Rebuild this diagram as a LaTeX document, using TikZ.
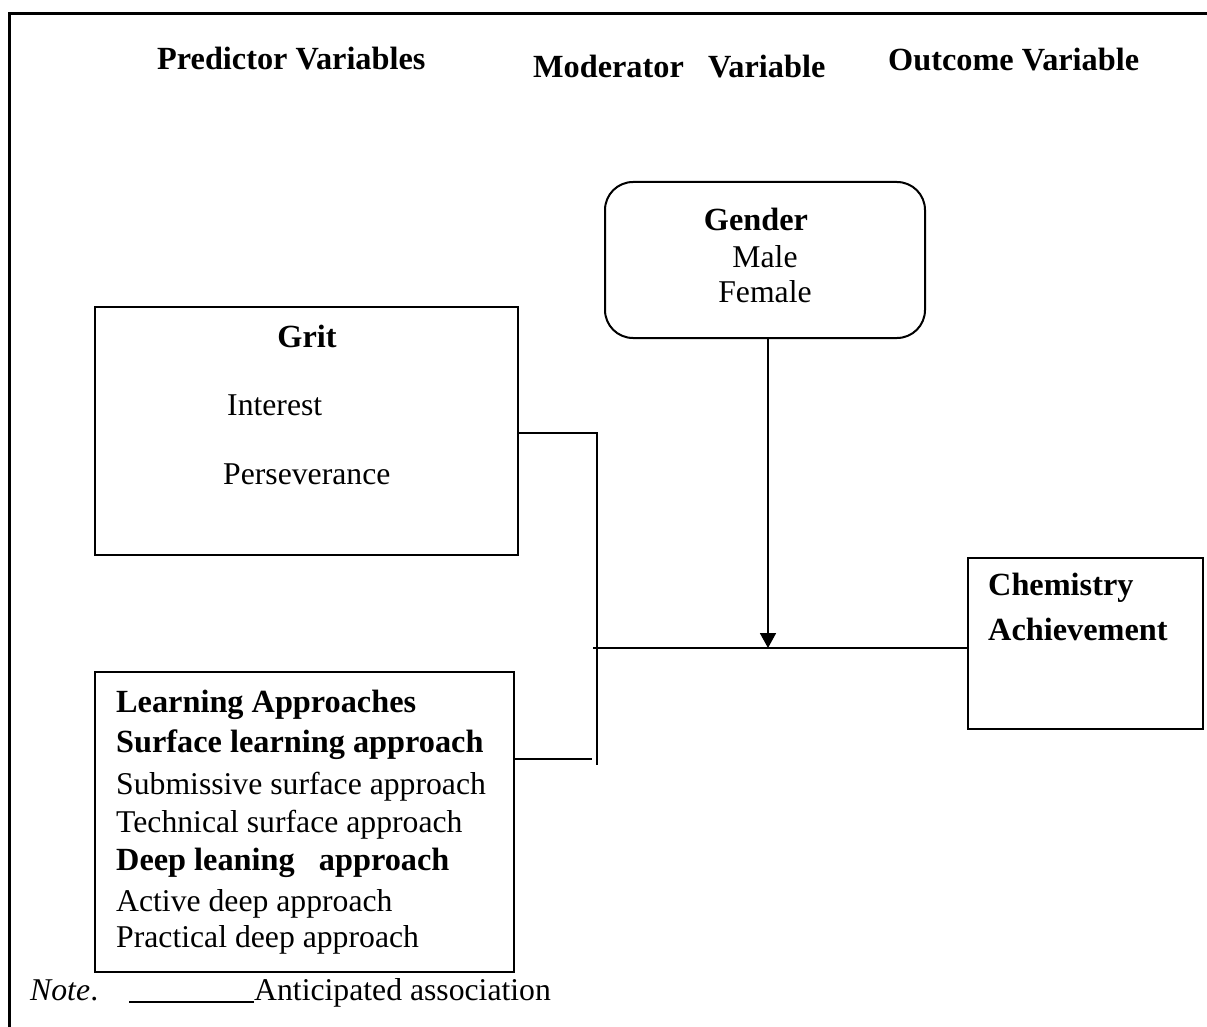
\documentclass[tikz,border=0pt]{standalone}
\usepackage{fontspec}
\setmainfont{Liberation Serif}
\usetikzlibrary{arrows.meta}
\tikzset{
  txt/.style={inner sep=0pt, font=\fontsize{31.7}{36}\selectfont},
  btxt/.style={txt, font=\fontsize{32.3}{37}\selectfont\bfseries},
  box/.style={draw, line width=2pt, inner sep=0pt},
  conn/.style={line width=1.8pt},
}
\begin{document}
\begin{tikzpicture}[x=1pt,y=-1pt]
\clip (0,0) rectangle (1207,1027);
\fill[white] (0,0) rectangle (1207,1027);
% outer frame (right and bottom edges lie outside the picture)
\draw[line width=2.2pt] (9.5,13.5) rectangle (1230,1050);

% headings
\node[btxt, anchor=base west] (hpred) at (157,70) {Predictor Variables};
\node[btxt, anchor=base west] (hmod) at (533,78) {Moderator\ \ \ Variable};
\node[btxt, anchor=base west] (hout) at (888,71) {Outcome Variable};

% boxes
\node[box, minimum width=423pt, minimum height=248pt] (grit) at (306.5,431) {};
\node[box, rounded corners=28pt, minimum width=320pt, minimum height=156pt] (gender) at (765,260) {};
\node[box, minimum width=419pt, minimum height=300pt] (learn) at (304.5,822) {};
\node[box, minimum width=235pt, minimum height=171pt] (chem) at (1085.5,643.5) {};

% grit text
\node[btxt, anchor=base] (tgrit) at (307,347) {Grit};
\node[txt, anchor=base west] (tint) at (227,415) {Interest};
\node[txt, anchor=base west] (tper) at (223,484) {Perseverance};

% gender text
\node[btxt, anchor=base] (tgen) at (756,230) {Gender};
\node[txt, anchor=base] (tmale) at (765,267) {Male};
\node[txt, anchor=base] (tfem) at (765,302) {Female};

% chemistry text
\node[btxt, anchor=base west] (tchem) at (988,595) {Chemistry};
\node[btxt, anchor=base west] (tach) at (988,640) {Achievement};

% learning approaches text
\node[btxt, anchor=base west] (tla) at (116,712) {Learning Approaches};
\node[btxt, anchor=base west] (tsla) at (116,752) {Surface learning approach};
\node[txt, anchor=base west] (tssa) at (116,794) {Submissive surface approach};
\node[txt, anchor=base west] (ttsa) at (116,832) {Technical surface approach};
\node[btxt, anchor=base west] (tdla) at (116,870) {Deep leaning\ \ \ approach};
\node[txt, anchor=base west] (tada) at (116,911) {Active deep approach};
\node[txt, anchor=base west] (tpda) at (116,947) {Practical deep approach};

% connectors
\coordinate (jtop) at (597,433);
\coordinate (jbot) at (597,765);
\coordinate (jlearn) at (592,759);
\coordinate (jmid) at (593,648);
\coordinate (jarrow) at (768,648);
\draw[conn] (grit.east |- jtop) -- (jtop) -- (jbot);
\draw[conn] (learn.east |- jlearn) -- (jlearn);
\draw[conn] (jmid) -- (chem.west |- jmid);
\draw[conn, -{Triangle[length=15pt,width=16pt]}] (gender.south -| jarrow) -- (jarrow);

% note
\node[txt, anchor=base west, font=\fontsize{31.7}{36}\selectfont\itshape] (note) at (30,1000) {Note};
\node[txt, anchor=base west] (notedot) at (note.base east) {.};
\coordinate (ulstart) at (129,1002);
\coordinate (ulend) at (254,1002);
\draw[line width=1.6pt] (ulstart) -- (ulend);
\node[txt, anchor=base west] (antic) at (254,1000) {Anticipated association};
\end{tikzpicture}
\end{document}
